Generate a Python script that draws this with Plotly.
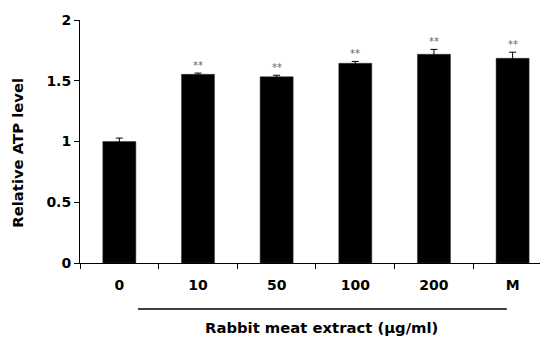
import plotly.graph_objects as go

categories = ["0", "10", "50", "100", "200", "M"]
values = [1.0, 1.553, 1.533, 1.644, 1.718, 1.685]
errors = [0.028, 0.01, 0.012, 0.015, 0.04, 0.05]
sig = ["", "**", "**", "**", "**", "**"]
y_ticks = [0, 0.5, 1, 1.5, 2]
y_tick_labels = ["0", "0.5", "1", "1.5", "2"]

FONT = "DejaVu Sans"

fig = go.Figure()
fig.add_trace(go.Bar(
    x=categories, y=values,
    marker=dict(color="black", line=dict(color="#333333", width=0.5)),
    width=0.42,
    error_y=dict(type="data", array=errors, visible=True, color="black", thickness=1, width=3.5),
))

for i, (v, e, s) in enumerate(zip(values, errors, sig)):
    if s:
        fig.add_annotation(x=i, y=v + e, text=s, showarrow=False, yanchor="bottom", yshift=0,
                           font=dict(family=FONT, size=10, color="#666666"))

# underline bar under treatment groups
fig.add_shape(type="line", xref="paper", yref="paper", x0=0.124, x1=0.912, y0=-0.189, y1=-0.189,
              line=dict(color="black", width=1.5))
fig.add_annotation(xref="paper", yref="paper", x=0.517, y=-0.267, xanchor="center", yanchor="middle",
                   text="<b>Rabbit meat extract (μg/ml)</b>",
                   showarrow=False, font=dict(family=FONT, size=14.8, color="black"))
fig.add_annotation(xref="paper", yref="paper", x=-0.133, y=0.453, xanchor="center", yanchor="middle",
                   text="<b>Relative ATP level</b>",
                   textangle=-90, showarrow=False, font=dict(family=FONT, size=14.8, color="black"))

fig.update_layout(
    width=540, height=330,
    margin=dict(l=72, r=0, t=12, b=75),
    paper_bgcolor="white", plot_bgcolor="white",
    showlegend=False,
    font=dict(family=FONT, color="black"),
    xaxis=dict(
        type="category", range=[-0.5, 5.45], automargin=False,
        showline=True, linecolor="black", linewidth=1,
        ticks="outside", ticklen=5, tickcolor="black", tickson="boundaries",
        ticklabelstandoff=9,
        tickfont=dict(family=FONT, size=14, color="black", weight="bold"),
        showgrid=False, zeroline=False,
    ),
    yaxis=dict(
        range=[0, 2], tickvals=y_ticks, ticktext=y_tick_labels, automargin=False,
        showline=True, linecolor="black", linewidth=1,
        ticks="outside", ticklen=5, tickcolor="black",
        tickfont=dict(family=FONT, size=14, color="black", weight="bold"),
        showgrid=False, zeroline=False,
    ),
)

fig.write_html("out.html")
